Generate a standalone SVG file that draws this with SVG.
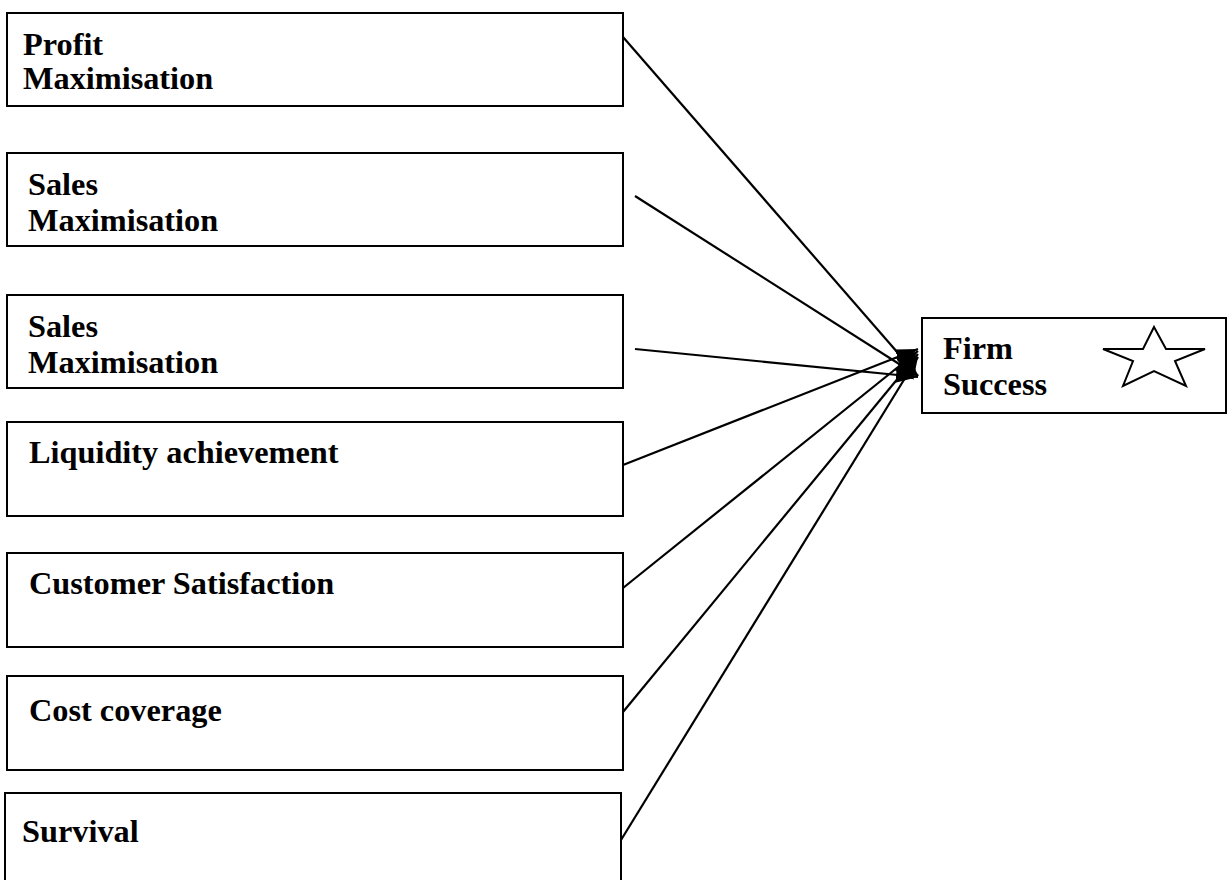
<svg xmlns="http://www.w3.org/2000/svg" width="1228" height="880" viewBox="0 0 1228 880">
<style>
.box{fill:#fff;stroke:#000;stroke-width:2}
.t{font-family:"Liberation Serif","Times New Roman",serif;font-weight:bold;font-size:32.3px;fill:#000}
.c{stroke:#000;stroke-width:2.2;fill:none;marker-end:url(#ah)}
</style>
<defs>
<marker id="ah" markerUnits="userSpaceOnUse" markerWidth="24" markerHeight="16" refX="22" refY="8" orient="auto">
<path d="M0,0 L22,8 L0,16 Z" fill="#000"/>
</marker>
</defs>
<rect width="1228" height="880" fill="#fff"/>
<g id="n1"><rect class="box" x="7" y="13" width="616" height="93"/><text class="t" x="23" y="55">Profit</text><text class="t" x="23" y="89">Maximisation</text></g>
<g id="n2"><rect class="box" x="7" y="153" width="616" height="93"/><text class="t" x="28" y="195">Sales</text><text class="t" x="28" y="231">Maximisation</text></g>
<g id="n3"><rect class="box" x="7" y="295" width="616" height="93"/><text class="t" x="28" y="337">Sales</text><text class="t" x="28" y="373">Maximisation</text></g>
<g id="n4"><rect class="box" x="7" y="422" width="616" height="94"/><text class="t" x="29" y="463">Liquidity achievement</text></g>
<g id="n5"><rect class="box" x="7" y="553" width="616" height="94"/><text class="t" x="29" y="594">Customer Satisfaction</text></g>
<g id="n6"><rect class="box" x="7" y="676" width="616" height="94"/><text class="t" x="29" y="721">Cost coverage</text></g>
<g id="n7"><rect class="box" x="5" y="793" width="616" height="95"/><text class="t" x="22" y="842">Survival</text></g>
<g id="n8"><rect class="box" x="922" y="318" width="304" height="95"/><text class="t" x="943" y="359">Firm</text><text class="t" x="943" y="395">Success</text>
<polygon points="1154,327 1166,349 1205,349 1175,361 1186,386 1154,371 1123,386 1133,361 1103,349 1143,349" fill="#fff" stroke="#000" stroke-width="2"/></g>
<g id="connectors">
<line class="c" x1="623" y1="37" x2="918" y2="376"/>
<line class="c" x1="635" y1="196" x2="918" y2="376"/>
<line class="c" x1="635" y1="349" x2="918" y2="377"/>
<line class="c" x1="623" y1="465" x2="918" y2="349"/>
<line class="c" x1="623" y1="588" x2="918" y2="351"/>
<line class="c" x1="623" y1="712" x2="918" y2="354"/>
<line class="c" x1="621" y1="840" x2="918" y2="357"/>
</g>
</svg>
